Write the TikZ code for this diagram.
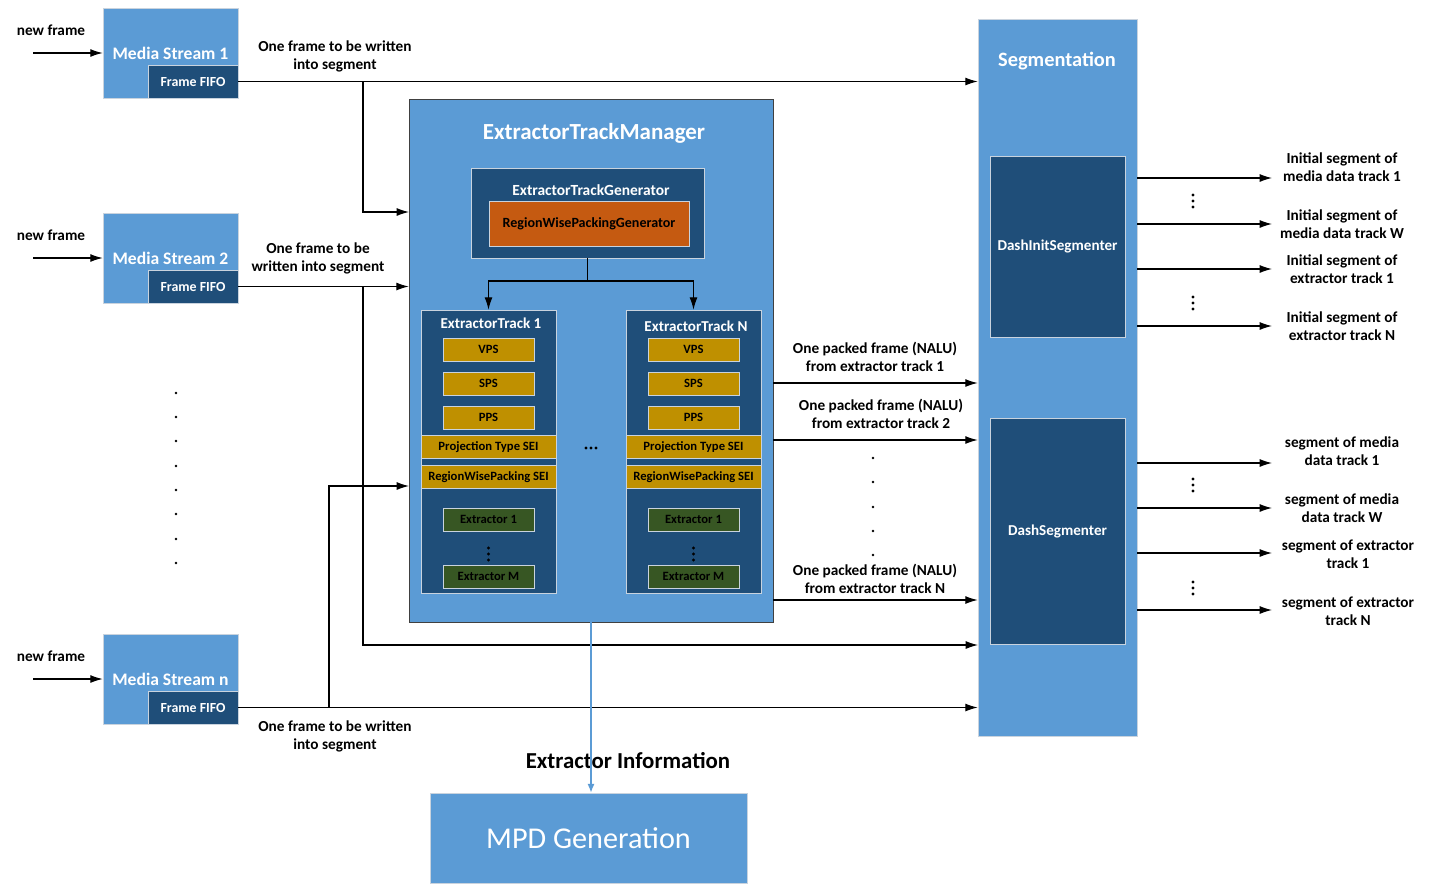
\documentclass[tikz,border=0pt]{standalone}
\usepackage{fontspec}
\setmainfont{Carlito}
\usetikzlibrary{arrows.meta}
\definecolor{lightblue}{HTML}{5B9BD5}
\definecolor{darkblue}{HTML}{1F4E79}
\definecolor{goldbar}{HTML}{BF9000}
\definecolor{rustbox}{HTML}{C55A11}
\definecolor{greenbox}{HTML}{375623}
\definecolor{edgegray}{HTML}{C9D3DE}

\tikzset{
  arr/.style={-{Latex[length=7pt,width=4.5pt]}, line width=0.6pt},
  lbl/.style={font=\bfseries\fontsize{8.7}{10.2}\selectfont, align=center, inner sep=0pt},
  streambox/.style={draw=edgegray, fill=lightblue, minimum width=2.7cm, minimum height=1.8cm, text=white, font=\bfseries\fontsize{10}{12}\selectfont},
  fifobox/.style={draw=edgegray, fill=darkblue, minimum width=1.8cm, minimum height=0.66cm, text=white, font=\bfseries\fontsize{7.9}{9}\selectfont},
  trackbox/.style={draw=edgegray, fill=darkblue, minimum width=2.7cm, minimum height=5.66cm},
  psbox/.style={draw=edgegray, fill=goldbar, minimum width=1.82cm, minimum height=0.46cm, font=\bfseries\fontsize{7.2}{8}\selectfont},
  seibar/.style={draw=edgegray, fill=goldbar, minimum width=2.7cm, minimum height=0.44cm, font=\bfseries\fontsize{7.2}{8}\selectfont},
  exbox/.style={draw=edgegray, fill=greenbox, minimum width=1.82cm, minimum height=0.46cm, font=\bfseries\fontsize{7.2}{8}\selectfont},
  whitetitle/.style={text=white, font=\bfseries\fontsize{8.6}{10}\selectfont, inner sep=0pt}
}

\begin{document}
\begin{tikzpicture}[x=0.02cm, y=-0.02cm]
\useasboundingbox (0,0) rectangle (1454,894);

% media streams
\node [streambox] (ms1) at (170.5,53) {Media Stream 1};
\node [fifobox] (fifo1) at (193,81.5) {Frame FIFO};
\node [streambox] (ms2) at (170.5,258) {Media Stream 2};
\node [fifobox] (fifo2) at (193,286.5) {Frame FIFO};
\node [streambox] (msn) at (170.5,679) {Media Stream n};
\node [fifobox] (fifon) at (193,707.5) {Frame FIFO};

\node [lbl] (nf1) at (51,30) {new frame};
\node [lbl] (nf2) at (51,235) {new frame};
\node [lbl] (nfn) at (51,656) {new frame};
\coordinate (in1) at (33,53);
\coordinate (in2) at (33,258);
\coordinate (inn) at (33,679);
\draw [arr] (in1) -- (ms1.west);
\draw [arr] (in2) -- (ms2.west);
\draw [arr] (inn) -- (msn.west);

\foreach \y in {393,417,441,466,490,514,539,563}
  \fill (176,\y) circle (1.3);

% extractor track manager
\node [draw=black!75, fill=lightblue, minimum width=7.28cm, minimum height=10.46cm] (etm) at (591,360.5) {};
\node [text=white, font=\bfseries\fontsize{13.1}{15}\selectfont] (etmtitle) at (594,133) {ExtractorTrackManager};

\node [draw=edgegray, fill=darkblue, minimum width=4.66cm, minimum height=1.8cm] (etg) at (587.5,213) {};
\node [whitetitle, font=\bfseries\fontsize{8.8}{10}\selectfont] (etgtitle) at (591,190) {ExtractorTrackGenerator};
\node [draw=edgegray, fill=rustbox, minimum width=4cm, minimum height=0.9cm, font=\bfseries\fontsize{8}{9}\selectfont] (rwpg) at (589,223.5) {RegionWisePackingGenerator};

% tracks
\node [trackbox] (tr1) at (488.5,451.5) {};
\node [whitetitle] (tr1title) at (491,323) {ExtractorTrack 1};
\node [psbox] (vps1) at (488.5,349.5) {VPS};
\node [psbox] (sps1) at (488.5,383.5) {SPS};
\node [psbox] (pps1) at (488.5,417.5) {PPS};
\node [seibar] (pt1) at (488.5,447) {Projection Type SEI};
\node [seibar] (rw1) at (488.5,477) {RegionWisePacking SEI};
\node [exbox] (ex11) at (488.5,519.5) {Extractor 1};
\node [exbox] (ex1m) at (488.5,576.5) {Extractor M};

\node [trackbox] (trn) at (693.5,451.5) {};
\node [whitetitle] (trntitle) at (696,326) {ExtractorTrack N};
\node [psbox] (vpsn) at (693.5,349.5) {VPS};
\node [psbox] (spsn) at (693.5,383.5) {SPS};
\node [psbox] (ppsn) at (693.5,417.5) {PPS};
\node [seibar] (ptn) at (693.5,447) {Projection Type SEI};
\node [seibar] (rwn) at (693.5,477) {RegionWisePacking SEI};
\node [exbox] (exn1) at (693.5,519.5) {Extractor 1};
\node [exbox] (exnm) at (693.5,576.5) {Extractor M};

\foreach \x in {488.5,693.5}
  \foreach \y in {548,554,560}
    \fill (\x,\y) circle (1.6);
\foreach \x in {586,591,596}
  \fill (\x,448) circle (1.6);

\coordinate (split) at (587.5,281);
\draw [line width=0.6pt] (etg.south) -- (split);
\draw [arr] (split) -| (tr1.north);
\draw [arr] (split) -| (trn.north);

% segmentation
\node [draw=edgegray, fill=lightblue, minimum width=3.18cm, minimum height=14.34cm] (seg) at (1057.5,377.5) {};
\node [text=white, font=\bfseries\fontsize{11.6}{13}\selectfont] (segtitle) at (1057,61) {Segmentation};
\node [draw=edgegray, fill=darkblue, minimum width=2.7cm, minimum height=3.62cm, text=white, font=\bfseries\fontsize{8.6}{10}\selectfont] (dis) at (1057.5,246.5) {DashInitSegmenter};
\node [draw=edgegray, fill=darkblue, minimum width=2.7cm, minimum height=4.52cm, text=white, font=\bfseries\fontsize{8.6}{10}\selectfont] (ds) at (1057.5,531) {DashSegmenter};

% frames into segment
\draw [arr] (fifo1.east) -- (fifo1.east -| seg.west);
\coordinate (b1) at (363,81.5);
\coordinate (etmin1) at (409,212);
\draw [arr] (b1) |- (etmin1);
\node [lbl] (fl1) at (335,56) {One frame to be written\\into segment};

\draw [arr] (fifo2.east) -- (fifo2.east -| etm.west);
\coordinate (b2) at (363,286.5);
\coordinate (segin2) at (978,645);
\draw [arr] (b2) |- (segin2);
\node [lbl] (fl2) at (318,258) {One frame to be\\written into segment};

\draw [arr] (fifon.east) -- (fifon.east -| seg.west);
\coordinate (b3) at (329,707.5);
\coordinate (etmin3) at (409,486);
\draw [arr] (b3) |- (etmin3);
\node [lbl] (fl3) at (335,736) {One frame to be written\\into segment};

% packed frames
\coordinate (po1) at (773,383);
\coordinate (po2) at (773,440);
\coordinate (pon) at (773,600);
\draw [arr] (po1) -- (po1 -| seg.west);
\draw [arr] (po2) -- (po2 -| seg.west);
\draw [arr] (pon) -- (pon -| seg.west);
\node [lbl] (pl1) at (875,357) {One packed frame (NALU)\\from extractor track 1};
\node [lbl] (pl2) at (881,414) {One packed frame (NALU)\\from extractor track 2};
\node [lbl] (pln) at (875,579) {One packed frame (NALU)\\from extractor track N};
\foreach \y in {458,482,507,531,555}
  \fill (873,\y) circle (1.3);

% outputs
\foreach \i/\y/\ly/\lx/\txt in {
  1/178/167/1342/{Initial segment of\\media data track 1},
  2/224/224/1342/{Initial segment of\\media data track W},
  3/269/269/1342/{Initial segment of\\extractor track 1},
  4/326/326/1342/{Initial segment of\\extractor track N},
  5/463/451/1342/{segment of media\\data track 1},
  6/508/508/1342/{segment of media\\data track W},
  7/553/554/1348/{segment of extractor\\track 1},
  8/610/611/1348/{segment of extractor\\track N}} {
  \coordinate (oa\i) at (1137,\y);
  \coordinate (ob\i) at (1272,\y);
  \draw [arr] (oa\i) -- (ob\i);
  \node [lbl] (ol\i) at (\lx,\ly) {\txt};
}
\foreach \y in {201,303,485,588}
  \foreach \d in {-6,0,6}
    \fill (1193,\y+\d) circle (1.6);

% mpd
\node [draw=edgegray, fill=lightblue, minimum width=6.34cm, minimum height=1.8cm, text=white, font=\fontsize{17.2}{20}\selectfont] (mpd) at (588.5,838) {MPD Generation};
\node [font=\bfseries\fontsize{13}{15}\selectfont] (exinfo) at (628,761) {Extractor Information};
\draw [-{Latex[length=5pt,width=4pt]}, draw=lightblue, fill=lightblue, line width=0.7pt] (etm.south) -- (etm.south |- mpd.north);
\end{tikzpicture}
\end{document}
